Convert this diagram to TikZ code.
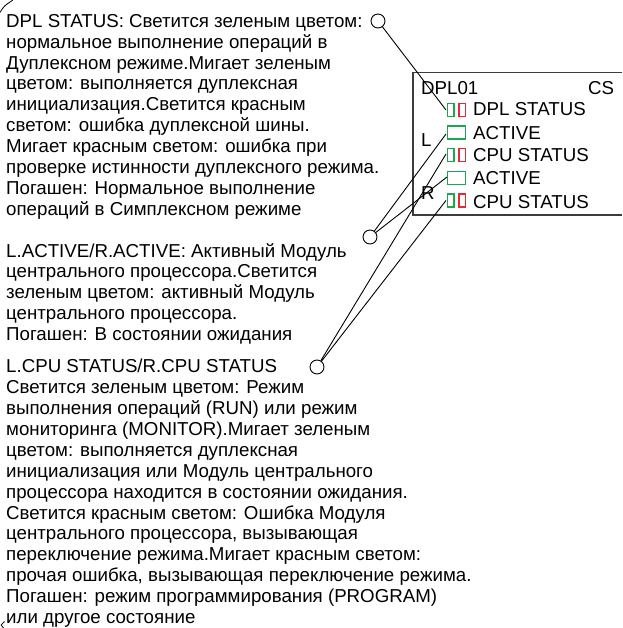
\documentclass[tikz,border=0pt]{standalone}
\usepackage{fontspec}
\setmainfont{Liberation Sans}
\definecolor{ledgreen}{RGB}{30,165,80}
\definecolor{ledred}{RGB}{232,40,50}
\definecolor{boxgray}{RGB}{60,60,60}
\begin{document}
\begin{tikzpicture}[x=1pt,y=-1pt,
  txt/.style={font=\fontsize{18.7}{20.9}\selectfont, inner sep=0pt, align=left, anchor=north west},
  lbl/.style={font=\fontsize{18.7}{22}\selectfont, inner sep=0pt, anchor=base west},
  callout/.style={circle, draw, line width=0.9pt, minimum size=14pt, inner sep=0pt},
  conn/.style={line width=0.9pt},
  ledg/.style={draw=ledgreen, line width=1.5pt, inner sep=0pt, minimum width=6.5pt, minimum height=13pt},
  ledr/.style={draw=ledred, line width=1.5pt, inner sep=0pt, minimum width=6.5pt, minimum height=13pt},
  leda/.style={draw=ledgreen, line width=1.5pt, inner sep=0pt, minimum width=18pt, minimum height=13pt},
  boxline/.style={draw=boxgray, line width=1.3pt}]
\useasboundingbox (0,0) rectangle (622,628);

% crop marks
\draw[line width=0.8pt] (0,12.5) .. controls (4,6) .. (13,0);
\draw[line width=0.8pt] (4.5,621.5) -- (1.2,625) -- (3.5,628);

% text blocks
\node[txt] (t1) at (6,14) {DPL STATUS: Светится зеленым цветом:\\
нормальное выполнение операций в\\
Дуплексном режиме.Мигает зеленым\\
цветом: выполняется дуплексная\\
инициализация.Светится красным\\
светом: ошибка дуплексной шины.\\
Мигает красным светом: ошибка при\\
проверке истинности дуплексного режима.\\
Погашен: Нормальное выполнение\\
операций в Симплексном режиме};

\node[txt] (t2) at (6,243) {L.ACTIVE/R.ACTIVE: Активный Модуль\\
центрального процессора.Светится\\
зеленым цветом: активный Модуль\\
центрального процессора.\\
Погашен: В состоянии ожидания};

\node[txt] (t3) at (6,359) {L.CPU STATUS/R.CPU STATUS\\
Светится зеленым цветом: Режим\\
выполнения операций (RUN) или режим\\
мониторинга (MONITOR).Мигает зеленым\\
цветом: выполняется дуплексная\\
инициализация или Модуль центрального\\
процессора находится в состоянии ожидания.\\
Светится красным светом: Ошибка Модуля\\
центрального процессора, вызывающая\\
переключение режима.Мигает красным светом:\\
прочая ошибка, вызывающая переключение режима.\\
Погашен: режим программирования (PROGRAM)\\
или другое состояние};

% module box (open on the right)
\coordinate (bxTR) at (622,72.5);
\coordinate (bxTL) at (413,72.5);
\coordinate (bxBL) at (413,215);
\coordinate (bxBR) at (622,215);
\draw[boxline] (bxTR) -- (bxTL) -- (bxBL) -- (bxBR);

\node[lbl] (dpl01) at (421,95) {DPL01};
\node[lbl] (cs) at (588,95) {CS};
\node[lbl] (lL) at (421,147) {L};
\node[lbl] (lR) at (421,200) {R};

% LEDs
\node[ledg] (g1) at (450.5,110) {};
\node[ledr] (r1) at (462,110) {};
\node[leda] (a1) at (456.5,132.5) {};
\node[ledg] (g2) at (450.5,155) {};
\node[ledr] (r2) at (462,155) {};
\node[leda] (a2) at (456.5,178) {};
\node[ledg] (g3) at (450.5,200.5) {};
\node[ledr] (r3) at (462,200.5) {};

\node[lbl] (s1) at (473,116) {DPL STATUS};
\node[lbl] (s2) at (473,140) {ACTIVE};
\node[lbl] (s3) at (473,162) {CPU STATUS};
\node[lbl] (s4) at (473,185) {ACTIVE};
\node[lbl] (s5) at (473,208) {CPU STATUS};

% callout circles
\node[callout] (c1) at (378,21) {};
\node[callout] (c2) at (370,237) {};
\node[callout] (c3) at (317,367) {};

\coordinate (e1) at (446,110);
\coordinate (e2) at (446,134);
\coordinate (e3) at (446,154);
\coordinate (e4) at (447,177);
\coordinate (e5) at (446,200.5);

\draw[conn] (c1) -- (e1);
\draw[conn] (c2) -- (e2);
\draw[conn] (c2) -- (e4);
\draw[conn] (c3) -- (e3);
\draw[conn] (c3) -- (e5);
\end{tikzpicture}
\end{document}
